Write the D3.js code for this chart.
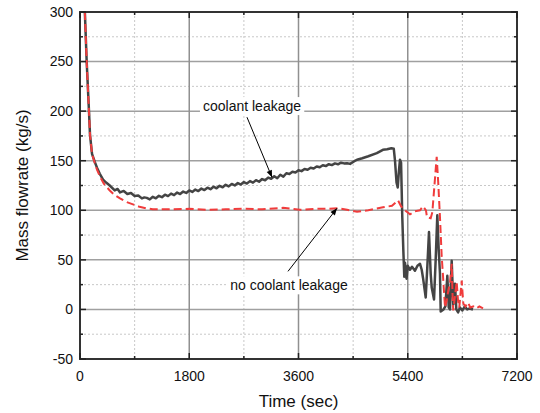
<!DOCTYPE html>
<html><head><meta charset="utf-8">
<script src="https://cdn.jsdelivr.net/npm/d3@7"></script>
<style>body{margin:0;background:#fff}svg{display:block}text{font-family:"Liberation Sans",Arial,sans-serif}</style>
</head><body><svg id="c" width="540" height="413"></svg>
<script>
const xTicks = [0,1800,3600,5400,7200];
const xMinor = [900,2700,4500,6300];
const yTicks = [-50,0,50,100,150,200,250,300];
const yMinor = [-25,25,75,125,175,225,275];

const leakT = [80,110,148,165,198,242,280,324,380,430,490,572,620,660,720,780,840,900,960,1020,1060,
1100,1150,1200,1250,1300,1350,1400,1450,1500,1550,1600,1650,1700,1750,1800,1850,1900,1950,2000,2050,2100,2150,2200,2250,2300,2350,2400,2450,2500,2550,2600,2650,2700,2750,2800,2850,2900,2950,3000,3050,3100,3150,3200,3250,3300,3350,3400,3450,3500,3550,3600,3650,3700,3750,3800,3850,3900,3950,4000,4050,4100,4150,4200,4250,4300,4350,4400,4449,
4520,4564,4650,4750,4890,4960,4990,5060,5130,5170,5190,5215,5235,5255,5272,5290,5310,5327,5343,5355,5380,5400,5437,5470,5519,5560,5602,5630,5651,5696,5720,5750,5778,5795,5833,5860,5887,5910,5931,5943,5990,6020,6052,6075,6096,6124,6150,6178,6200,6230,6260,6300,6340,6380,6420,6475];
const leakV = [300,250,200,176,157,149,143,137,131,128,125,120,121.5,118,119.5,116.5,117.5,114.5,115,112,113,
112.5,111,113.6,112.1,114.6,113.2,115.7,114.3,116.8,115.3,117.9,116.4,118.9,117.5,120,118.5,120.9,119.4,121.9,120.4,122.8,121.3,123.8,122.2,124.7,123.2,125.7,124.1,126.6,125.1,127.5,126,128.5,127,129.4,127.9,130.4,128.8,131.5,130.3,133,131.8,134.4,132.3,135.8,133.9,137.4,136.6,138.9,138.1,140.4,139.5,141.7,140.9,142.9,142.1,144.2,143.4,145.4,144.6,146.5,145.6,147.3,146.4,148,147.3,147.5,146.8,
149.5,151,152.5,154.5,157.6,160,161,161.5,162.5,162,150,128,123,140,151,148,93,60,33,47,31,44,40,43,39,44,46,40,32,12,40,78,36,22,10,50,95,60,36,-2,0,3,34,2,0,49,5,26,0,-3,2,-1,3,0,1,0];

const noLeakT = [80,110,148,165,198,242,280,330,390,490,560,659,760,873,980,1087,1200,1500,1800,2100,2400,2700,3000,3345,3625,3900,4100,4251,4400,4564,4750,4992,5140,5239,5290,5355,5437,5519,5602,5651,5700,5717,5778,5805,5877,5903,5931,5959,5986,6014,6042,6070,6096,6124,6140,6150,6206,6228,6249,6289,6315,6350,6393,6430,6480,6530,6580,6640];
const noLeakV = [300,250,200,176,157,148,141,134,127,120,116,112,108.5,106,103.5,102,101,101,101.5,100.5,101,101.5,101,102.5,100.5,101.5,101.5,102,100.5,98.5,100,103,104.5,110,104,100,96,99,100,104,100,93,92,98,154,127,93,54,29,2,9,20,26,46,10,-1,28,9,2,29,6,3,7,2,3,1,3,1];

const notes = [
  {text:"coolant leakage", t:2834, v:205, tailT:2751, tailV:193.9, tipT:3163, tipV:133.3},
  {text:"no coolant leakage", t:3443, v:24.2, tailT:3427, tailV:38.4, tipT:4234, tipV:102}
];

const svg = d3.select("#c");
const L=80, R=517, T=12, B=359;
const x = d3.scaleLinear().domain([0,7200]).range([L,R]);
const y = d3.scaleLinear().domain([-50,300]).range([B,T]);

// grid
const g = svg.append("g");
g.selectAll(".ymin").data(yMinor).join("line").attr("x1",L).attr("x2",R).attr("y1",d=>y(d)).attr("y2",d=>y(d))
 .attr("stroke","#c8c8c8").attr("stroke-width",1).attr("stroke-dasharray","2,2");
g.selectAll(".xmin").data(xMinor).join("line").attr("y1",T).attr("y2",B).attr("x1",d=>x(d)).attr("x2",d=>x(d))
 .attr("stroke","#c8c8c8").attr("stroke-width",1).attr("stroke-dasharray","2,2");
g.selectAll(".ymaj").data(yTicks.slice(1,-1)).join("line").attr("x1",L).attr("x2",R).attr("y1",d=>y(d)).attr("y2",d=>y(d))
 .attr("stroke","#a0a0a0").attr("stroke-width",1.5);
g.selectAll(".xmaj").data(xTicks.slice(1,-1)).join("line").attr("y1",T).attr("y2",B).attr("x1",d=>x(d)).attr("x2",d=>x(d))
 .attr("stroke","#909090").attr("stroke-width",1.5);

// label boxes (white backgrounds)
const clip = svg.append("clipPath").attr("id","clp").append("rect").attr("x",L).attr("y",T).attr("width",R-L).attr("height",B-T);

const line = d3.line().x(d=>x(d[0])).y(d=>y(d[1]));
const plot = svg.append("g").attr("clip-path","url(#clp)");
plot.append("path").datum(leakT.map((t,i)=>[t,leakV[i]])).attr("d",line).attr("fill","none")
 .attr("stroke","#444").attr("stroke-width",2.5).attr("stroke-linejoin","round");
plot.append("path").datum(noLeakT.map((t,i)=>[t,noLeakV[i]])).attr("d",line).attr("fill","none")
 .attr("stroke","#f03c3c").attr("stroke-width",2).attr("stroke-dasharray","8,4");

// annotations
svg.append("defs").append("marker").attr("id","ah").attr("viewBox","0 0 10 10").attr("refX",10).attr("refY",5)
 .attr("markerWidth",9).attr("markerHeight",7).attr("markerUnits","userSpaceOnUse").attr("orient","auto")
 .append("path").attr("d","M0,1L10,5L0,9Z").attr("fill","#000");
notes.forEach(n=>{
  const txt = svg.append("text").attr("x",x(n.t)).attr("y",y(n.v)).attr("text-anchor","middle").attr("dy","0.35em")
   .attr("font-size",14).attr("fill","#111").text(n.text);
  const bb = txt.node().getBBox();
  svg.insert("rect","text").attr("x",bb.x-3).attr("y",bb.y-1).attr("width",bb.width+6).attr("height",bb.height+2).attr("fill","#fff");
  svg.append("line").attr("x1",x(n.tailT)).attr("y1",y(n.tailV)).attr("x2",x(n.tipT)).attr("y2",y(n.tipV))
   .attr("stroke","#000").attr("stroke-width",1).attr("marker-end","url(#ah)");
});

// frame
svg.append("rect").attr("x",L).attr("y",T).attr("width",R-L).attr("height",B-T).attr("fill","none")
 .attr("stroke","#333").attr("stroke-width",2);

// ticks inward
const tk = svg.append("g").attr("stroke","#222").attr("stroke-width",1.5);
yTicks.forEach(v=>{tk.append("line").attr("x1",L).attr("x2",L+6).attr("y1",y(v)).attr("y2",y(v));
 tk.append("line").attr("x1",R).attr("x2",R-6).attr("y1",y(v)).attr("y2",y(v));});
yMinor.forEach(v=>{tk.append("line").attr("x1",L).attr("x2",L+3).attr("y1",y(v)).attr("y2",y(v));
 tk.append("line").attr("x1",R).attr("x2",R-3).attr("y1",y(v)).attr("y2",y(v));});
xTicks.forEach(v=>{tk.append("line").attr("y1",B).attr("y2",B-6).attr("x1",x(v)).attr("x2",x(v));
 tk.append("line").attr("y1",T).attr("y2",T+6).attr("x1",x(v)).attr("x2",x(v));});
xMinor.forEach(v=>{tk.append("line").attr("y1",B).attr("y2",B-3).attr("x1",x(v)).attr("x2",x(v));
 tk.append("line").attr("y1",T).attr("y2",T+3).attr("x1",x(v)).attr("x2",x(v));});

// tick labels
svg.selectAll(".yl").data(yTicks).join("text").attr("x",L-7).attr("y",d=>y(d)).attr("dy","0.35em")
 .attr("text-anchor","end").attr("font-size",14).attr("fill","#111").text(d=>d);
svg.selectAll(".xl").data(xTicks).join("text").attr("x",d=>x(d)).attr("y",B+17).attr("dy","0.35em")
 .attr("text-anchor","middle").attr("font-size",14).attr("fill","#111").text(d=>d);

svg.append("text").attr("x",(L+R)/2).attr("y",401).attr("dy","0.35em").attr("text-anchor","middle")
 .attr("font-size",17).attr("fill","#111").text("Time (sec)");
svg.append("text").attr("transform",`translate(22,${(T+B)/2}) rotate(-90)`).attr("dy","0.35em").attr("text-anchor","middle")
 .attr("font-size",17).attr("fill","#111").text("Mass flowrate (kg/s)");
</script></body></html>
